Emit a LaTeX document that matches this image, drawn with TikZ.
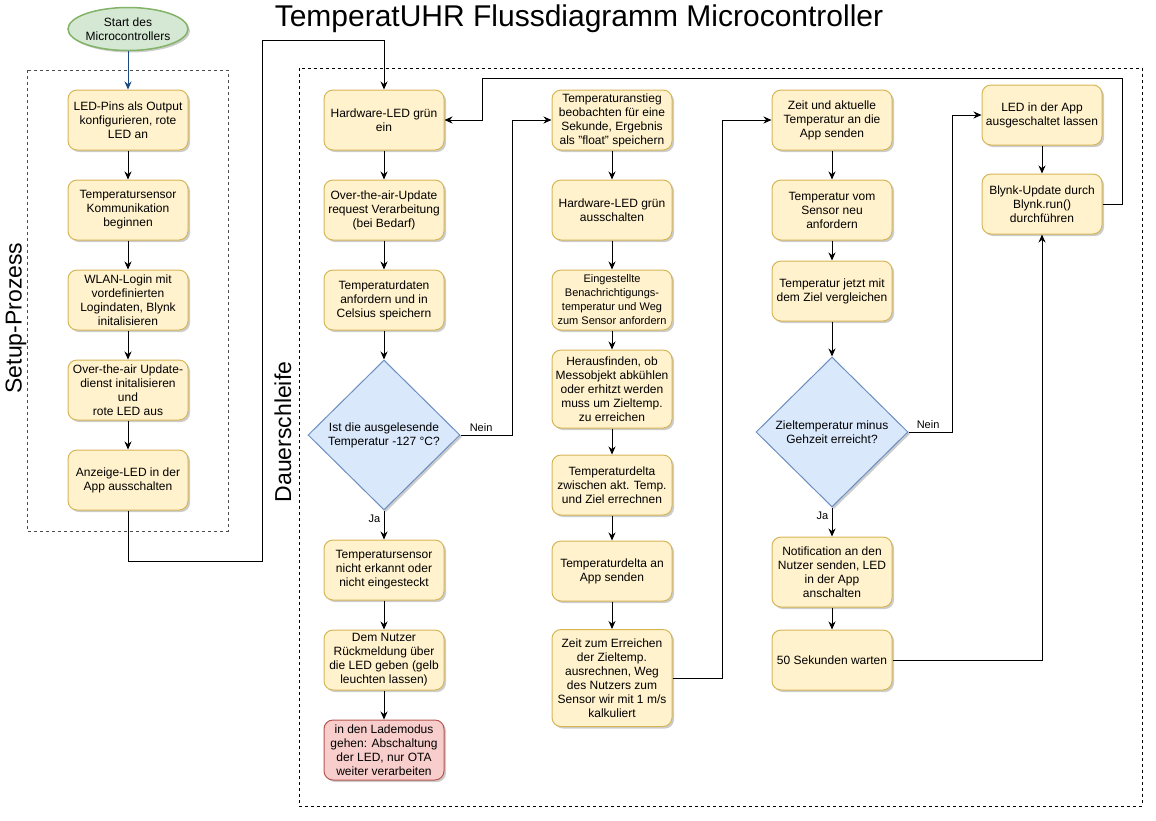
\documentclass[tikz,border=0pt]{standalone}
\usepackage{fontspec}
\setmainfont{Liberation Sans}
\usepackage{tikz}
\usetikzlibrary{shapes.geometric,arrows.meta,shadows}
\definecolor{boxfill}{HTML}{FFF2CC}
\definecolor{boxline}{HTML}{D6B656}
\definecolor{decfill}{HTML}{DAE8FC}
\definecolor{decline}{HTML}{6C8EBF}
\definecolor{startfill}{HTML}{D5E8D4}
\definecolor{startline}{HTML}{82B366}
\definecolor{endfill}{HTML}{F8CECC}
\definecolor{endline}{HTML}{B85450}
\definecolor{startarrow}{HTML}{1A4A80}

\begin{document}
\begin{tikzpicture}[x=1pt,y=-1pt,
  font=\fontsize{12}{14}\selectfont,
  shade/.style={drop shadow={shadow xshift=2pt,shadow yshift=-2pt,opacity=0.2,fill=black}},
  box/.style={shape=rectangle,rounded corners=9pt,draw=boxline,fill=boxfill,line width=1pt,minimum width=120pt,minimum height=60pt,align=center,inner sep=1pt,shade},
  stopbox/.style={box,draw=endline,fill=endfill},
  decision/.style={shape=diamond,draw=decline,fill=decfill,line width=1pt,minimum width=152pt,minimum height=150pt,align=center,inner sep=0pt,shade},
  flow/.style={-{Stealth[length=8pt,width=7pt]},line width=1pt},
  frame/.style={line width=1pt,dash pattern=on 3pt off 3pt},
  lbl/.style={font=\fontsize{11}{13}\selectfont},
  side/.style={rotate=90,font=\fontsize{23}{27}\selectfont}]
\useasboundingbox (0,0) rectangle (1156,820);
\node(title) at (579,19) [font=\fontsize{30}{34}\selectfont] {TemperatUHR Flussdiagramm Microcontroller};
% Setup
\draw[frame,draw=black!70] (27,70) rectangle (228,531);
\node(setup) at (16,318)[side] {Setup-Prozess};
\node(0) at (128,29)[shape=ellipse,draw=startline,fill=startfill,line width=1.5pt,minimum width=120pt,minimum height=43pt,align=center,inner sep=0pt,shade] {Start des\\Microcontrollers};
\node(1) at (128,120)[box] {LED-Pins als Output\\konfigurieren, rote\\LED an};
\node(2) at (128,210)[box] {Temperatursensor\\Kommunikation\\beginnen};
\node(3) at (128,300)[box] {WLAN-Login mit\\vordefinierten\\Logindaten, Blynk\\initalisieren};
\node(4) at (128,390)[box] {Over-the-air Update-\\dienst initalisieren\\und\\rote LED aus};
\node(5) at (128,480)[box] {Anzeige-LED in der\\App ausschalten};
% Dauerschleife
\draw[frame] (299,68) rectangle (1142,806);
\node(loop) at (283,432)[side] {Dauerschleife};
\node(6) at (384,120)[box] {Hardware-LED grün\\ein};
\node(7) at (384,210)[box] {Over-the-air-Update\\request Verarbeitung\\(bei Bedarf)};
\node(8) at (384,300)[box] {Temperaturdaten\\anfordern und in\\Celsius speichern};
\node(9) at (384,435)[decision] {Ist die ausgelesende\\Temperatur -127 °C?};
\node(10) at (384,570)[box] {Temperatursensor\\nicht erkannt oder\\nicht eingesteckt};
\node(11) at (384,660)[box] {Dem Nutzer\\Rückmeldung über\\die LED geben (gelb\\leuchten lassen)};
\node(12) at (384,750)[stopbox] {in den Lademodus\\gehen: Abschaltung\\der LED, nur OTA\\weiter verarbeiten};
\node(13) at (612,120)[box] {Temperaturanstieg\\beobachten für eine\\Sekunde, Ergebnis\\als "float" speichern};
\node(14) at (612,210)[box] {Hardware-LED grün\\ausschalten};
\node(15) at (612,300)[box,font=\fontsize{11}{14}\selectfont] {Eingestellte\\Benachrichtigungs-\\temperatur und Weg\\zum Sensor anfordern};
\node(16) at (612,389)[box,minimum height=78pt] {Herausfinden, ob\\Messobjekt abkühlen\\oder erhitzt werden\\muss um Zieltemp.\\zu erreichen};
\node(17) at (612,485)[box] {Temperaturdelta\\zwischen akt. Temp.\\und Ziel errechnen};
\node(18) at (612,571)[box] {Temperaturdelta an\\App senden};
\node(19) at (612,678)[box,minimum height=97pt] {Zeit zum Erreichen\\der Zieltemp.\\ausrechnen, Weg\\des Nutzers zum\\Sensor wir mit 1 m/s\\kalkuliert};
\node(20) at (832,120)[box] {Zeit und aktuelle\\Temperatur an die\\App senden};
\node(21) at (832,210)[box] {Temperatur vom\\Sensor neu\\anfordern};
\node(22) at (832,291)[box] {Temperatur jetzt mit\\dem Ziel vergleichen};
\node(23) at (832,432)[decision] {Zieltemperatur minus\\Gehzeit erreicht?};
\node(24) at (832,572)[box,minimum height=70pt] {Notification an den\\Nutzer senden, LED\\in der App\\anschalten};
\node(25) at (832,660)[box] {50 Sekunden warten};
\node(26) at (1042,115)[box] {LED in der App\\ausgeschaltet lassen};
\node(27) at (1042,204)[box] {Blynk-Update durch\\Blynk.run()\\durchführen};
% Setup connectors
\draw[flow,draw=startarrow] (0) -- (1);
\draw[flow] (1) -- (2);
\draw[flow] (2) -- (3);
\draw[flow] (3) -- (4);
\draw[flow] (4) -- (5);
\draw[flow] (5.south) -- (128,561) -- (262,561) -- (262,40) -| (6.north);
% first column
\draw[flow] (6) -- (7);
\draw[flow] (7) -- (8);
\draw[flow] (8) -- (9);
\draw[flow] (9) -- node[lbl,pos=0.3,left]{Ja} (10);
\draw[flow] (10) -- (11);
\draw[flow] (11) -- (12);
\draw[flow] (9.east) -- node[lbl,pos=0.4,above]{Nein} (512,435) |- (13.west);
% second column
\draw[flow] (13) -- (14);
\draw[flow] (14) -- (15);
\draw[flow] (15) -- (16);
\draw[flow] (16) -- (17);
\draw[flow] (17) -- (18);
\draw[flow] (18) -- (19);
\draw[flow] (19.east) -- (722,678) |- (20.west);
% third column
\draw[flow] (20) -- (21);
\draw[flow] (21) -- (22);
\draw[flow] (22) -- (23);
\draw[flow] (23) -- node[lbl,pos=0.3,left]{Ja} (24);
\draw[flow] (24) -- (25);
\draw[flow] (23.east) -- node[lbl,pos=0.45,above]{Nein} (952,432) |- (26.west);
\draw[flow] (25.east) -| (27.south);
% back to the start of the loop
\draw[flow] (26) -- (27);
\draw[flow] (27.east) -- (1122,204) |- (482,78) |- (6.east);
\end{tikzpicture}
\end{document}
